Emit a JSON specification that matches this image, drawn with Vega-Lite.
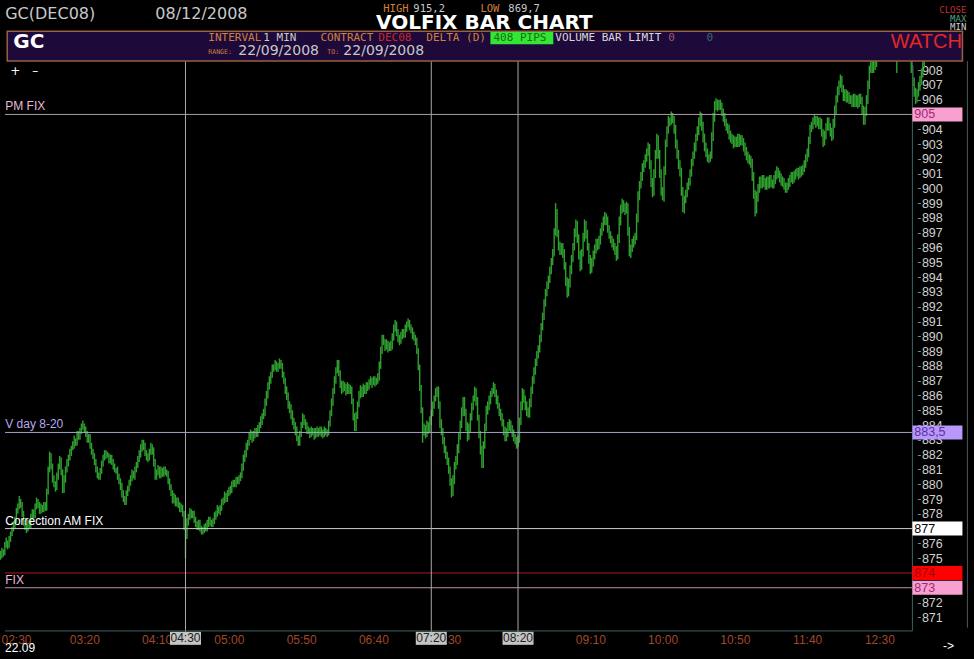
{
"$schema": "https://vega.github.io/schema/vega-lite/v6.json",
"width": 974, "height": 659,
"autosize": {"type": "fit", "contains": "padding"},
"padding": 0,
"background": "#000000",
"config": {"view": {"stroke": null}, "axis": {"labelOverlap": false}},
"datasets": {
"one": [{"k": 1}],
"vlines": [{"m": 270, "t": "04:30"}, {"m": 440, "t": "07:20"}, {"m": 500, "t": "08:20"}],
"levels": [
{"name": "PM FIX", "p": 905, "label": "PM FIX", "tag": "905"},
{"name": "V day 8-20", "p": 883.5, "label": "V day 8-20", "tag": "883,5"},
{"name": "Correction AM FIX", "p": 877, "label": "Correction AM FIX", "tag": "877"},
{"name": "874", "p": 874, "label": "", "tag": "874"},
{"name": "FIX", "p": 873, "label": "FIX", "tag": "873"}],
"bars": [
{"m":142,"h":875.5,"l":874.9},{"m":143,"h":875.7,"l":875.0},{"m":144,"h":875.6,"l":875.1},{"m":145,"h":876.1,"l":875.2},{"m":146,"h":876.4,"l":875.7},{"m":147,"h":876.2,"l":875.6},{"m":148,"h":876.5,"l":875.7},{"m":149,"h":876.8,"l":876.1},{"m":150,"h":877.1,"l":876.5},{"m":151,"h":877.5,"l":876.8},
{"m":152,"h":877.8,"l":877.0},{"m":153,"h":878.4,"l":877.4},{"m":154,"h":878.7,"l":878.0},{"m":155,"h":879.2,"l":878.3},{"m":156,"h":879.0,"l":878.4},{"m":157,"h":878.8,"l":877.8},{"m":158,"h":878.2,"l":877.2},{"m":159,"h":877.6,"l":876.9},{"m":160,"h":877.3,"l":876.7},{"m":161,"h":877.6,"l":876.8},
{"m":162,"h":877.5,"l":877.0},{"m":163,"h":878.0,"l":877.0},{"m":164,"h":878.3,"l":877.6},{"m":165,"h":878.3,"l":877.7},{"m":166,"h":878.7,"l":877.7},{"m":167,"h":879.1,"l":878.3},{"m":168,"h":879.0,"l":878.4},{"m":169,"h":878.8,"l":878.0},{"m":170,"h":878.7,"l":878.0},{"m":171,"h":878.6,"l":878.1},
{"m":172,"h":878.8,"l":878.1},{"m":173,"h":878.8,"l":878.2},{"m":174,"h":879.7,"l":878.2},{"m":175,"h":881.2,"l":879.3},{"m":176,"h":882.2,"l":880.8},{"m":177,"h":882.1,"l":881.0},{"m":178,"h":881.4,"l":880.1},{"m":179,"h":880.6,"l":879.8},{"m":180,"h":880.2,"l":879.5},{"m":181,"h":880.8,"l":879.6},
{"m":182,"h":881.4,"l":880.3},{"m":183,"h":881.9,"l":881.0},{"m":184,"h":881.8,"l":880.6},{"m":185,"h":881.0,"l":879.4},{"m":186,"h":880.6,"l":879.4},{"m":187,"h":881.2,"l":880.1},{"m":188,"h":881.7,"l":880.8},{"m":189,"h":882.0,"l":881.2},{"m":190,"h":882.4,"l":881.6},{"m":191,"h":882.6,"l":881.9},
{"m":192,"h":882.9,"l":882.3},{"m":193,"h":883.3,"l":882.4},{"m":194,"h":883.1,"l":882.6},{"m":195,"h":883.6,"l":882.6},{"m":196,"h":883.6,"l":883.0},{"m":197,"h":883.8,"l":883.0},{"m":198,"h":884.1,"l":883.4},{"m":199,"h":884.3,"l":883.7},{"m":200,"h":884.1,"l":883.5},{"m":201,"h":883.9,"l":883.2},
{"m":202,"h":883.6,"l":882.8},{"m":203,"h":883.4,"l":882.8},{"m":204,"h":883.4,"l":882.4},{"m":205,"h":882.8,"l":882.0},{"m":206,"h":882.4,"l":881.7},{"m":207,"h":882.1,"l":881.3},{"m":208,"h":881.7,"l":880.8},{"m":209,"h":881.2,"l":880.4},{"m":210,"h":880.8,"l":880.3},{"m":211,"h":881.1,"l":880.3},
{"m":212,"h":881.6,"l":880.7},{"m":213,"h":882.0,"l":881.2},{"m":214,"h":882.3,"l":881.6},{"m":215,"h":882.3,"l":881.7},{"m":216,"h":882.2,"l":881.8},{"m":217,"h":882.1,"l":881.4},{"m":218,"h":882.0,"l":881.4},{"m":219,"h":882.0,"l":881.3},{"m":220,"h":881.7,"l":881.0},{"m":221,"h":881.4,"l":880.8},
{"m":222,"h":881.1,"l":880.7},{"m":223,"h":881.2,"l":880.3},{"m":224,"h":880.7,"l":880.0},{"m":225,"h":880.4,"l":879.6},{"m":226,"h":880.1,"l":879.1},{"m":227,"h":879.6,"l":878.8},{"m":228,"h":879.2,"l":878.6},{"m":229,"h":879.6,"l":878.6},{"m":230,"h":879.9,"l":879.2},{"m":231,"h":880.3,"l":879.5},
{"m":232,"h":880.6,"l":879.9},{"m":233,"h":881.0,"l":880.2},{"m":234,"h":880.9,"l":880.4},{"m":235,"h":881.2,"l":880.3},{"m":236,"h":881.5,"l":880.8},{"m":237,"h":881.9,"l":881.1},{"m":238,"h":882.3,"l":881.5},{"m":239,"h":882.7,"l":881.8},{"m":240,"h":883.0,"l":882.2},{"m":241,"h":883.0,"l":882.3},
{"m":242,"h":882.8,"l":881.9},{"m":243,"h":882.3,"l":881.6},{"m":244,"h":882.1,"l":881.5},{"m":245,"h":882.4,"l":881.6},{"m":246,"h":882.8,"l":882.0},{"m":247,"h":882.7,"l":882.0},{"m":248,"h":882.5,"l":881.2},{"m":249,"h":881.7,"l":880.3},{"m":250,"h":881.0,"l":880.3},{"m":251,"h":881.3,"l":880.6},
{"m":252,"h":881.2,"l":880.4},{"m":253,"h":881.2,"l":880.4},{"m":254,"h":881.1,"l":880.5},{"m":255,"h":881.2,"l":880.5},{"m":256,"h":881.2,"l":880.6},{"m":257,"h":881.0,"l":880.5},{"m":258,"h":880.9,"l":880.0},{"m":259,"h":880.4,"l":879.6},{"m":260,"h":880.0,"l":879.2},{"m":261,"h":879.6,"l":878.7},
{"m":262,"h":879.4,"l":878.7},{"m":263,"h":879.3,"l":878.5},{"m":264,"h":879.1,"l":878.5},{"m":265,"h":879.1,"l":878.4},{"m":266,"h":878.8,"l":878.1},{"m":267,"h":878.7,"l":878.1},{"m":268,"h":878.6,"l":877.8},{"m":269,"h":878.2,"l":876.9},{"m":270,"h":877.5,"l":875.0},{"m":271,"h":877.7,"l":876.3},
{"m":272,"h":878.0,"l":877.2},{"m":273,"h":878.4,"l":877.6},{"m":274,"h":878.3,"l":877.7},{"m":275,"h":878.2,"l":877.7},{"m":276,"h":878.2,"l":877.4},{"m":277,"h":877.8,"l":877.1},{"m":278,"h":877.5,"l":876.9},{"m":279,"h":877.6,"l":876.9},{"m":280,"h":877.6,"l":876.8},{"m":281,"h":877.2,"l":876.6},
{"m":282,"h":877.1,"l":876.6},{"m":283,"h":877.3,"l":876.7},{"m":284,"h":877.4,"l":876.8},{"m":285,"h":877.6,"l":876.8},{"m":286,"h":877.8,"l":877.1},{"m":287,"h":877.8,"l":877.2},{"m":288,"h":877.6,"l":877.1},{"m":289,"h":877.7,"l":877.1},{"m":290,"h":878.1,"l":877.3},{"m":291,"h":878.2,"l":877.6},
{"m":292,"h":878.6,"l":877.8},{"m":293,"h":878.5,"l":878.0},{"m":294,"h":878.6,"l":877.9},{"m":295,"h":879.0,"l":878.2},{"m":296,"h":879.1,"l":878.6},{"m":297,"h":879.5,"l":878.7},{"m":298,"h":879.4,"l":878.8},{"m":299,"h":879.6,"l":878.8},{"m":300,"h":879.8,"l":879.2},{"m":301,"h":879.9,"l":879.3},
{"m":302,"h":880.2,"l":879.4},{"m":303,"h":880.3,"l":879.8},{"m":304,"h":880.3,"l":879.8},{"m":305,"h":880.5,"l":879.8},{"m":306,"h":880.5,"l":880.0},{"m":307,"h":880.6,"l":880.0},{"m":308,"h":880.8,"l":880.2},{"m":309,"h":881.4,"l":880.4},{"m":310,"h":882.0,"l":880.9},{"m":311,"h":882.3,"l":881.5},
{"m":312,"h":882.8,"l":881.8},{"m":313,"h":883.0,"l":882.3},{"m":314,"h":883.5,"l":882.6},{"m":315,"h":883.7,"l":883.0},{"m":316,"h":883.6,"l":882.8},{"m":317,"h":883.6,"l":882.9},{"m":318,"h":883.8,"l":883.1},{"m":319,"h":883.8,"l":883.2},{"m":320,"h":884.0,"l":883.2},{"m":321,"h":884.2,"l":883.5},
{"m":322,"h":884.6,"l":883.8},{"m":323,"h":884.8,"l":884.0},{"m":324,"h":885.1,"l":884.4},{"m":325,"h":885.8,"l":884.6},{"m":326,"h":886.3,"l":885.3},{"m":327,"h":886.9,"l":885.8},{"m":328,"h":887.3,"l":886.4},{"m":329,"h":887.6,"l":886.8},{"m":330,"h":888.1,"l":887.2},{"m":331,"h":888.1,"l":887.6},
{"m":332,"h":888.4,"l":887.7},{"m":333,"h":888.3,"l":887.6},{"m":334,"h":888.2,"l":887.6},{"m":335,"h":888.5,"l":887.8},{"m":336,"h":888.4,"l":887.8},{"m":337,"h":888.2,"l":887.2},{"m":338,"h":887.6,"l":886.8},{"m":339,"h":887.2,"l":886.1},{"m":340,"h":886.6,"l":885.7},{"m":341,"h":886.2,"l":885.1},
{"m":342,"h":885.6,"l":884.8},{"m":343,"h":885.4,"l":884.4},{"m":344,"h":885.0,"l":884.0},{"m":345,"h":884.5,"l":883.7},{"m":346,"h":884.2,"l":883.3},{"m":347,"h":883.9,"l":882.9},{"m":348,"h":883.3,"l":882.6},{"m":349,"h":883.6,"l":882.6},{"m":350,"h":884.2,"l":883.2},{"m":351,"h":884.8,"l":883.8},
{"m":352,"h":884.7,"l":884.0},{"m":353,"h":884.4,"l":883.7},{"m":354,"h":884.2,"l":883.4},{"m":355,"h":883.9,"l":883.4},{"m":356,"h":883.8,"l":883.1},{"m":357,"h":883.9,"l":883.2},{"m":358,"h":883.8,"l":883.3},{"m":359,"h":883.8,"l":883.0},{"m":360,"h":883.8,"l":883.1},{"m":361,"h":883.9,"l":883.2},
{"m":362,"h":883.8,"l":883.2},{"m":363,"h":883.9,"l":883.3},{"m":364,"h":883.9,"l":883.2},{"m":365,"h":883.7,"l":883.1},{"m":366,"h":883.9,"l":883.2},{"m":367,"h":883.8,"l":883.3},{"m":368,"h":883.7,"l":883.2},{"m":369,"h":884.3,"l":883.3},{"m":370,"h":885.0,"l":883.9},{"m":371,"h":885.8,"l":884.6},
{"m":372,"h":886.5,"l":885.3},{"m":373,"h":887.3,"l":886.1},{"m":374,"h":887.9,"l":886.8},{"m":375,"h":888.4,"l":887.5},{"m":376,"h":888.4,"l":887.3},{"m":377,"h":887.7,"l":886.5},{"m":378,"h":887.0,"l":886.1},{"m":379,"h":887.0,"l":886.2},{"m":380,"h":886.9,"l":886.3},{"m":381,"h":886.8,"l":886.0},
{"m":382,"h":886.9,"l":886.1},{"m":383,"h":886.8,"l":886.1},{"m":384,"h":886.7,"l":886.1},{"m":385,"h":886.6,"l":885.4},{"m":386,"h":885.8,"l":884.3},{"m":387,"h":884.8,"l":883.6},{"m":388,"h":884.9,"l":883.6},{"m":389,"h":885.6,"l":884.4},{"m":390,"h":886.3,"l":885.2},{"m":391,"h":886.7,"l":885.8},
{"m":392,"h":886.6,"l":885.9},{"m":393,"h":886.8,"l":885.9},{"m":394,"h":886.7,"l":886.1},{"m":395,"h":886.9,"l":886.1},{"m":396,"h":886.9,"l":886.3},{"m":397,"h":887.1,"l":886.4},{"m":398,"h":887.3,"l":886.7},{"m":399,"h":887.2,"l":886.5},{"m":400,"h":887.3,"l":886.7},{"m":401,"h":887.3,"l":886.6},
{"m":402,"h":887.2,"l":886.7},{"m":403,"h":887.5,"l":886.8},{"m":404,"h":888.3,"l":887.0},{"m":405,"h":889.3,"l":887.8},{"m":406,"h":890.1,"l":888.8},{"m":407,"h":890.1,"l":889.4},{"m":408,"h":889.8,"l":889.0},{"m":409,"h":889.8,"l":889.1},{"m":410,"h":889.7,"l":888.9},{"m":411,"h":889.6,"l":889.0},
{"m":412,"h":889.7,"l":889.0},{"m":413,"h":890.2,"l":889.1},{"m":414,"h":890.8,"l":889.7},{"m":415,"h":891.1,"l":890.3},{"m":416,"h":891.0,"l":890.0},{"m":417,"h":890.5,"l":889.6},{"m":418,"h":890.1,"l":889.4},{"m":419,"h":890.3,"l":889.5},{"m":420,"h":890.5,"l":889.8},{"m":421,"h":890.5,"l":889.9},
{"m":422,"h":890.8,"l":889.9},{"m":423,"h":891.0,"l":890.3},{"m":424,"h":891.2,"l":890.6},{"m":425,"h":891.1,"l":890.4},{"m":426,"h":890.8,"l":890.2},{"m":427,"h":890.6,"l":889.8},{"m":428,"h":890.3,"l":889.7},{"m":429,"h":890.1,"l":889.4},{"m":430,"h":889.9,"l":888.8},{"m":431,"h":889.2,"l":887.7},
{"m":432,"h":888.1,"l":886.3},{"m":433,"h":886.7,"l":884.8},{"m":434,"h":885.2,"l":882.8},{"m":435,"h":884.1,"l":883.3},{"m":436,"h":884.0,"l":883.1},{"m":437,"h":884.3,"l":883.2},{"m":438,"h":884.2,"l":883.4},{"m":439,"h":884.6,"l":883.5},{"m":440,"h":885.0,"l":884.0},{"m":441,"h":885.6,"l":884.6},
{"m":442,"h":886.0,"l":885.1},{"m":443,"h":886.5,"l":885.6},{"m":444,"h":886.6,"l":885.9},{"m":445,"h":886.6,"l":885.1},{"m":446,"h":885.6,"l":883.8},{"m":447,"h":884.4,"l":883.3},{"m":448,"h":883.8,"l":882.7},{"m":449,"h":883.2,"l":882.1},{"m":450,"h":882.6,"l":881.7},{"m":451,"h":882.2,"l":881.3},
{"m":452,"h":881.8,"l":880.7},{"m":453,"h":881.2,"l":879.9},{"m":454,"h":880.4,"l":879.1},{"m":455,"h":880.6,"l":879.2},{"m":456,"h":881.5,"l":880.0},{"m":457,"h":881.9,"l":881.0},{"m":458,"h":882.7,"l":881.3},{"m":459,"h":883.5,"l":882.1},{"m":460,"h":884.3,"l":883.0},{"m":461,"h":885.2,"l":883.8},
{"m":462,"h":885.9,"l":884.6},{"m":463,"h":885.9,"l":884.6},{"m":464,"h":885.1,"l":883.6},{"m":465,"h":884.2,"l":882.9},{"m":466,"h":884.1,"l":883.0},{"m":467,"h":884.8,"l":883.5},{"m":468,"h":885.5,"l":884.3},{"m":469,"h":886.0,"l":885.0},{"m":470,"h":886.6,"l":885.6},{"m":471,"h":886.5,"l":885.3},
{"m":472,"h":885.9,"l":884.3},{"m":473,"h":884.7,"l":883.1},{"m":474,"h":883.6,"l":882.0},{"m":475,"h":882.6,"l":881.1},{"m":476,"h":882.9,"l":881.1},{"m":477,"h":884.1,"l":882.4},{"m":478,"h":885.3,"l":883.6},{"m":479,"h":885.6,"l":884.7},{"m":480,"h":886.0,"l":885.0},{"m":481,"h":886.3,"l":885.4},
{"m":482,"h":886.5,"l":885.9},{"m":483,"h":886.9,"l":886.1},{"m":484,"h":886.8,"l":885.9},{"m":485,"h":886.4,"l":885.4},{"m":486,"h":886.0,"l":885.1},{"m":487,"h":885.5,"l":884.6},{"m":488,"h":885.1,"l":884.3},{"m":489,"h":884.8,"l":883.9},{"m":490,"h":884.4,"l":883.3},{"m":491,"h":883.9,"l":882.9},
{"m":492,"h":883.8,"l":882.9},{"m":493,"h":884.2,"l":883.2},{"m":494,"h":884.4,"l":883.6},{"m":495,"h":884.3,"l":883.5},{"m":496,"h":884.0,"l":883.2},{"m":497,"h":883.7,"l":882.9},{"m":498,"h":883.4,"l":882.7},{"m":499,"h":883.2,"l":882.4},{"m":500,"h":883.3,"l":882.5},{"m":501,"h":884.5,"l":882.8},
{"m":502,"h":885.6,"l":884.0},{"m":503,"h":886.5,"l":885.0},{"m":504,"h":886.4,"l":885.5},{"m":505,"h":886.0,"l":885.0},{"m":506,"h":885.6,"l":884.6},{"m":507,"h":885.2,"l":884.5},{"m":508,"h":885.8,"l":884.5},{"m":509,"h":886.6,"l":885.2},{"m":510,"h":887.3,"l":886.1},{"m":511,"h":887.9,"l":886.8},
{"m":512,"h":888.5,"l":887.4},{"m":513,"h":889.0,"l":888.0},{"m":514,"h":889.4,"l":888.5},{"m":515,"h":890.1,"l":888.9},{"m":516,"h":890.9,"l":889.6},{"m":517,"h":891.6,"l":890.4},{"m":518,"h":892.5,"l":891.1},{"m":519,"h":893.2,"l":892.0},{"m":520,"h":893.7,"l":892.7},{"m":521,"h":894.1,"l":893.2},
{"m":522,"h":894.7,"l":893.6},{"m":523,"h":895.3,"l":894.2},{"m":524,"h":895.9,"l":894.8},{"m":525,"h":897.3,"l":895.4},{"m":526,"h":899.0,"l":896.8},{"m":527,"h":898.6,"l":896.7},{"m":528,"h":897.2,"l":895.8},{"m":529,"h":896.4,"l":895.5},{"m":530,"h":896.3,"l":895.5},{"m":531,"h":896.3,"l":895.3},
{"m":532,"h":895.9,"l":894.5},{"m":533,"h":895.0,"l":893.4},{"m":534,"h":894.0,"l":892.6},{"m":535,"h":893.9,"l":892.7},{"m":536,"h":894.8,"l":893.3},{"m":537,"h":895.5,"l":894.2},{"m":538,"h":896.3,"l":895.0},{"m":539,"h":897.3,"l":895.8},{"m":540,"h":897.9,"l":896.7},{"m":541,"h":897.8,"l":896.3},
{"m":542,"h":896.9,"l":895.2},{"m":543,"h":895.8,"l":894.4},{"m":544,"h":895.9,"l":894.5},{"m":545,"h":897.0,"l":895.4},{"m":546,"h":897.9,"l":896.4},{"m":547,"h":897.8,"l":896.6},{"m":548,"h":897.2,"l":895.8},{"m":549,"h":896.3,"l":894.9},{"m":550,"h":895.5,"l":894.2},{"m":551,"h":895.3,"l":894.3},
{"m":552,"h":895.8,"l":894.7},{"m":553,"h":896.2,"l":895.2},{"m":554,"h":896.6,"l":895.6},{"m":555,"h":896.6,"l":895.8},{"m":556,"h":896.8,"l":895.9},{"m":557,"h":897.3,"l":896.2},{"m":558,"h":897.7,"l":896.8},{"m":559,"h":898.1,"l":897.1},{"m":560,"h":898.4,"l":897.5},{"m":561,"h":898.3,"l":897.5},
{"m":562,"h":898.1,"l":897.0},{"m":563,"h":897.5,"l":896.6},{"m":564,"h":897.1,"l":896.3},{"m":565,"h":896.8,"l":896.0},{"m":566,"h":896.6,"l":895.8},{"m":567,"h":896.3,"l":895.5},{"m":568,"h":896.1,"l":895.1},{"m":569,"h":896.9,"l":895.2},{"m":570,"h":898.1,"l":896.3},{"m":571,"h":898.9,"l":897.5},
{"m":572,"h":899.3,"l":898.3},{"m":573,"h":899.2,"l":898.4},{"m":574,"h":899.0,"l":898.2},{"m":575,"h":899.1,"l":898.3},{"m":576,"h":899.0,"l":896.8},{"m":577,"h":897.4,"l":895.4},{"m":578,"h":896.2,"l":895.3},{"m":579,"h":896.6,"l":895.7},{"m":580,"h":896.8,"l":896.0},{"m":581,"h":897.0,"l":896.2},
{"m":582,"h":898.3,"l":896.5},{"m":583,"h":899.8,"l":897.7},{"m":584,"h":900.5,"l":899.2},{"m":585,"h":901.1,"l":900.0},{"m":586,"h":901.7,"l":900.5},{"m":587,"h":901.9,"l":901.1},{"m":588,"h":902.3,"l":901.4},{"m":589,"h":902.7,"l":901.8},{"m":590,"h":903.1,"l":902.2},{"m":591,"h":903.0,"l":901.3},
{"m":592,"h":901.9,"l":900.1},{"m":593,"h":900.7,"l":899.4},{"m":594,"h":901.3,"l":899.5},{"m":595,"h":902.6,"l":900.7},{"m":596,"h":903.7,"l":902.0},{"m":597,"h":903.6,"l":902.0},{"m":598,"h":902.6,"l":900.7},{"m":599,"h":901.3,"l":899.5},{"m":600,"h":900.1,"l":899.2},{"m":601,"h":901.5,"l":899.1},
{"m":602,"h":903.3,"l":900.9},{"m":603,"h":904.2,"l":902.8},{"m":604,"h":904.9,"l":903.7},{"m":605,"h":904.8,"l":904.2},{"m":606,"h":905.2,"l":904.3},{"m":607,"h":905.1,"l":904.4},{"m":608,"h":904.9,"l":903.7},{"m":609,"h":904.3,"l":902.7},{"m":610,"h":903.3,"l":902.0},{"m":611,"h":902.6,"l":901.3},
{"m":612,"h":901.9,"l":900.8},{"m":613,"h":901.4,"l":899.5},{"m":614,"h":900.1,"l":898.4},{"m":615,"h":899.5,"l":898.3},{"m":616,"h":899.9,"l":899.0},{"m":617,"h":900.4,"l":899.4},{"m":618,"h":900.7,"l":899.9},{"m":619,"h":901.3,"l":900.2},{"m":620,"h":902.0,"l":900.8},{"m":621,"h":902.5,"l":901.5},
{"m":622,"h":903.1,"l":902.0},{"m":623,"h":903.7,"l":902.5},{"m":624,"h":904.2,"l":903.2},{"m":625,"h":904.8,"l":903.6},{"m":626,"h":905.2,"l":904.2},{"m":627,"h":905.1,"l":903.9},{"m":628,"h":904.5,"l":903.1},{"m":629,"h":903.7,"l":902.5},{"m":630,"h":903.1,"l":902.1},{"m":631,"h":902.7,"l":901.8},
{"m":632,"h":902.3,"l":901.7},{"m":633,"h":902.5,"l":901.8},{"m":634,"h":903.8,"l":902.0},{"m":635,"h":905.1,"l":903.2},{"m":636,"h":905.9,"l":904.5},{"m":637,"h":906.1,"l":905.3},{"m":638,"h":906.0,"l":905.2},{"m":639,"h":906.0,"l":905.3},{"m":640,"h":906.0,"l":905.3},{"m":641,"h":905.8,"l":904.9},
{"m":642,"h":905.4,"l":904.5},{"m":643,"h":905.1,"l":904.2},{"m":644,"h":904.7,"l":903.9},{"m":645,"h":904.4,"l":903.7},{"m":646,"h":904.3,"l":903.3},{"m":647,"h":903.9,"l":903.1},{"m":648,"h":903.7,"l":903.0},{"m":649,"h":903.6,"l":902.7},{"m":650,"h":903.5,"l":902.8},{"m":651,"h":903.5,"l":902.8},
{"m":652,"h":903.7,"l":902.8},{"m":653,"h":903.7,"l":902.8},{"m":654,"h":903.6,"l":902.9},{"m":655,"h":903.6,"l":902.9},{"m":656,"h":903.4,"l":902.5},{"m":657,"h":903.1,"l":902.2},{"m":658,"h":902.8,"l":901.9},{"m":659,"h":902.5,"l":901.7},{"m":660,"h":902.3,"l":901.6},{"m":661,"h":902.2,"l":901.4},
{"m":662,"h":902.0,"l":900.5},{"m":663,"h":901.1,"l":899.3},{"m":664,"h":899.9,"l":898.1},{"m":665,"h":899.8,"l":898.3},{"m":666,"h":900.3,"l":899.1},{"m":667,"h":900.8,"l":899.7},{"m":668,"h":900.8,"l":900.0},{"m":669,"h":900.9,"l":900.0},{"m":670,"h":900.9,"l":900.1},{"m":671,"h":900.7,"l":899.9},
{"m":672,"h":900.8,"l":899.9},{"m":673,"h":900.8,"l":900.0},{"m":674,"h":900.9,"l":900.0},{"m":675,"h":900.9,"l":900.1},{"m":676,"h":900.6,"l":900.0},{"m":677,"h":900.9,"l":900.0},{"m":678,"h":901.2,"l":900.3},{"m":679,"h":901.5,"l":900.6},{"m":680,"h":901.4,"l":900.7},{"m":681,"h":901.2,"l":900.4},
{"m":682,"h":901.0,"l":900.2},{"m":683,"h":900.8,"l":900.1},{"m":684,"h":900.7,"l":899.9},{"m":685,"h":900.4,"l":899.7},{"m":686,"h":900.4,"l":899.7},{"m":687,"h":900.7,"l":899.9},{"m":688,"h":900.9,"l":900.1},{"m":689,"h":901.1,"l":900.4},{"m":690,"h":901.1,"l":900.3},{"m":691,"h":901.2,"l":900.4},
{"m":692,"h":901.3,"l":900.6},{"m":693,"h":901.4,"l":900.8},{"m":694,"h":901.4,"l":900.6},{"m":695,"h":901.5,"l":900.7},{"m":696,"h":901.5,"l":900.8},{"m":697,"h":901.6,"l":900.9},{"m":698,"h":901.9,"l":901.1},{"m":699,"h":902.3,"l":901.4},{"m":700,"h":902.7,"l":901.8},{"m":701,"h":903.5,"l":902.1},
{"m":702,"h":904.3,"l":903.0},{"m":703,"h":904.5,"l":903.8},{"m":704,"h":904.8,"l":904.0},{"m":705,"h":905.0,"l":904.3},{"m":706,"h":904.9,"l":904.1},{"m":707,"h":904.9,"l":904.2},{"m":708,"h":904.8,"l":904.0},{"m":709,"h":904.8,"l":904.0},{"m":710,"h":904.7,"l":903.5},{"m":711,"h":904.0,"l":902.8},
{"m":712,"h":903.9,"l":902.9},{"m":713,"h":904.4,"l":903.3},{"m":714,"h":904.8,"l":903.9},{"m":715,"h":904.8,"l":903.9},{"m":716,"h":904.4,"l":903.5},{"m":717,"h":904.1,"l":903.2},{"m":718,"h":904.7,"l":903.3},{"m":719,"h":905.6,"l":904.1},{"m":720,"h":906.3,"l":905.0},{"m":721,"h":906.9,"l":905.8},
{"m":722,"h":907.3,"l":906.3},{"m":723,"h":907.7,"l":906.8},{"m":724,"h":907.6,"l":906.5},{"m":725,"h":907.0,"l":905.9},{"m":726,"h":906.7,"l":905.9},{"m":727,"h":906.7,"l":905.8},{"m":728,"h":906.6,"l":905.8},{"m":729,"h":906.5,"l":905.7},{"m":730,"h":906.3,"l":905.7},{"m":731,"h":906.3,"l":905.5},
{"m":732,"h":906.4,"l":905.5},{"m":733,"h":906.4,"l":905.5},{"m":734,"h":906.3,"l":905.5},{"m":735,"h":906.3,"l":905.4},{"m":736,"h":906.4,"l":905.5},{"m":737,"h":906.4,"l":905.7},{"m":738,"h":906.2,"l":905.0},{"m":739,"h":905.6,"l":904.3},{"m":740,"h":905.5,"l":904.3},{"m":741,"h":906.3,"l":904.9},
{"m":742,"h":907.3,"l":905.7},{"m":743,"h":908.3,"l":906.7},{"m":744,"h":908.6,"l":907.8},{"m":745,"h":908.6,"l":907.8},{"m":746,"h":908.7,"l":907.8},{"m":747,"h":908.8,"l":908.0},{"m":748,"h":909.1,"l":908.2},{"m":749,"h":909.6,"l":908.7},{"m":750,"h":909.9,"l":909.1},{"m":751,"h":910.2,"l":909.4},
{"m":752,"h":910.5,"l":909.6},{"m":753,"h":910.4,"l":909.7},{"m":754,"h":910.6,"l":909.8},{"m":755,"h":910.6,"l":909.8},{"m":756,"h":910.6,"l":909.9},{"m":757,"h":910.5,"l":909.7},{"m":758,"h":910.2,"l":909.4},{"m":759,"h":909.9,"l":909.1},{"m":760,"h":909.6,"l":908.8},{"m":761,"h":909.4,"l":908.7},
{"m":762,"h":909.1,"l":907.8},{"m":763,"h":909.7,"l":908.8},{"m":764,"h":910.0,"l":909.2},{"m":765,"h":910.2,"l":909.4},{"m":766,"h":910.0,"l":909.2},{"m":767,"h":909.8,"l":909.1},{"m":768,"h":909.7,"l":909.0},{"m":769,"h":909.6,"l":908.9},{"m":770,"h":909.4,"l":908.8},{"m":771,"h":909.2,"l":908.7},
{"m":772,"h":909.0,"l":907.8},{"m":773,"h":908.3,"l":906.9},{"m":774,"h":907.5,"l":906.2},{"m":775,"h":906.8,"l":905.7},{"m":776,"h":906.7,"l":905.8},{"m":777,"h":907.2,"l":906.2},{"m":778,"h":907.6,"l":906.6},{"m":779,"h":908.1,"l":907.0},{"m":780,"h":908.7,"l":907.5},{"m":781,"h":909.4,"l":908.2}
]
},
"layer": [
{"data": {"name": "bars"}, "mark": {"type": "rule", "color": "#2fa02f", "strokeWidth": 1.4, "clip": true},
 "encoding": {
  "x": {"field": "m", "type": "quantitative", "scale": {"domain": [145.15, 811.94], "nice": false, "zero": false},
   "axis": {"orient": "bottom", "offset": -27, "values": [150, 200, 250, 300, 350, 400, 450, 500, 550, 600, 650, 700, 750], "tickCount": 50, "labelExpr": "timeFormat(datetime(2008, 8, 22, 0, datum.value), '%H:%M')", "title": null, "domain": false, "grid": false, "ticks": false, "tickSize": 0, "labelColor": "#a04828", "labelFont": "Liberation Sans", "labelFontSize": 12, "labelPadding": 2, "labelFlush": 15, "labelFlushOffset": 11, "labelOverlap": false}},
  "y": {"field": "l", "type": "quantitative", "scale": {"domain": [868.521, 912.398], "nice": false, "zero": false},
   "axis": {"orient": "right", "offset": -56.6, "values": [871, 872, 873, 874, 875, 876, 877, 878, 879, 880, 881, 882, 883, 884, 885, 886, 887, 888, 889, 890, 891, 892, 893, 894, 895, 896, 897, 898, 899, 900, 901, 902, 903, 904, 905, 906, 907, 908], "tickCount": 100, "format": "d", "title": null, "grid": false, "domain": false, "ticks": true, "tickColor": "#7a9090", "tickSize": 3, "labelColor": "#d0d0d0", "labelFont": "Liberation Sans", "labelFontSize": 12.5, "labelPadding": 1, "labelOverlap": false}},
  "y2": {"field": "h"}}},
{"data": {"name": "levels"}, "mark": {"type": "rule", "strokeWidth": 1},
 "encoding": {"x": {"datum": 145.2, "type": "quantitative"}, "x2": {"datum": 772.8}, "y": {"field": "p", "type": "quantitative"},
  "color": {"field": "name", "type": "nominal", "legend": null, "scale": {"domain": ["PM FIX", "V day 8-20", "Correction AM FIX", "874", "FIX"], "range": ["#b09ca8", "#a4a4c4", "#cccccc", "#b01818", "#c090a8"]}}}},
{"data": {"name": "vlines"}, "mark": {"type": "rule", "color": "#a8a8a8", "strokeWidth": 1},
 "encoding": {"x": {"field": "m", "type": "quantitative"}, "y": {"datum": 908.6, "type": "quantitative"}, "y2": {"datum": 869.95}}},
{"data": {"name": "one"}, "mark": {"type": "rule", "color": "#3a6262", "strokeWidth": 1},
 "encoding": {"x": {"datum": 145.2, "type": "quantitative"}, "x2": {"datum": 772.8}, "y": {"datum": 870.08, "type": "quantitative"}}},
{"data": {"name": "one"}, "mark": {"type": "rule", "color": "#3a6262", "strokeWidth": 1},
 "encoding": {"x": {"datum": 772.8, "type": "quantitative"}, "y": {"datum": 908.6, "type": "quantitative"}, "y2": {"datum": 870.08}}},
{"data": {"name": "one"}, "mark": {"type": "rule", "color": "#4a5a5a", "strokeWidth": 1},
 "encoding": {"x": {"datum": 810.84, "type": "quantitative"}, "y": {"datum": 908.6, "type": "quantitative"}, "y2": {"datum": 870.3}}},
{"data": {"name": "one"}, "mark": {"type": "rect", "fill": "#1e0a3a", "stroke": "#9a6040", "strokeWidth": 1.5},
 "encoding": {"x": {"datum": 146.7, "type": "quantitative"}, "x2": {"datum": 807.4}, "y": {"datum": 910.63, "type": "quantitative"}, "y2": {"datum": 908.62}}},
{"data": {"name": "levels"}, "transform": [{"filter": "datum.label != ''"}], "mark": {"type": "text", "align": "left", "baseline": "bottom", "dy": -1, "font": "Liberation Sans", "fontSize": 12},
 "encoding": {"x": {"datum": 145.3, "type": "quantitative"}, "y": {"field": "p", "type": "quantitative"}, "text": {"field": "label"},
  "color": {"field": "name", "type": "nominal", "legend": null, "scale": {"domain": ["PM FIX", "V day 8-20", "Correction AM FIX", "874", "FIX"], "range": ["#e8b8d8", "#b8a8f0", "#ffffff", "#b01818", "#e8b8d8"]}}}},
{"data": {"name": "levels"}, "mark": {"type": "bar", "orient": "horizontal", "size": 14},
 "encoding": {"x": {"datum": 772.8, "type": "quantitative"}, "x2": {"datum": 807.4}, "y": {"field": "p", "type": "quantitative"},
  "color": {"field": "name", "type": "nominal", "legend": null, "scale": {"domain": ["PM FIX", "V day 8-20", "Correction AM FIX", "874", "FIX"], "range": ["#f8a0d0", "#b898f8", "#ffffff", "#ff0000", "#f8a0d0"]}}}},
{"data": {"name": "levels"}, "mark": {"type": "text", "align": "left", "baseline": "middle", "font": "Liberation Sans", "fontSize": 12.5},
 "encoding": {"x": {"datum": 774.1, "type": "quantitative"}, "y": {"field": "p", "type": "quantitative"}, "text": {"field": "tag"},
  "color": {"field": "name", "type": "nominal", "legend": null, "scale": {"domain": ["PM FIX", "V day 8-20", "Correction AM FIX", "874", "FIX"], "range": ["#a02878", "#5830a8", "#000000", "#a00000", "#a02878"]}}}},
{"data": {"name": "vlines"}, "mark": {"type": "bar", "orient": "vertical", "size": 31, "color": "#c4c4c4"},
 "encoding": {"x": {"field": "m", "type": "quantitative"}, "y": {"datum": 870.02, "type": "quantitative"}, "y2": {"datum": 869.14}}},
{"data": {"name": "vlines"}, "mark": {"type": "text", "align": "center", "baseline": "middle", "font": "Liberation Sans", "fontSize": 12, "color": "#202020"},
 "encoding": {"x": {"field": "m", "type": "quantitative"}, "y": {"datum": 869.58, "type": "quantitative"}, "text": {"field": "t"}}},
{"data": {"name": "one"}, "mark": {"type": "text", "text": "22.09", "align": "left", "baseline": "middle", "font": "Liberation Sans", "fontSize": 12, "color": "#ffffff"},
 "encoding": {"x": {"datum": 145.2, "type": "quantitative"}, "y": {"datum": 868.9, "type": "quantitative"}}},
{"data": {"name": "one"}, "mark": {"type": "text", "text": "->", "align": "center", "baseline": "middle", "font": "Liberation Sans", "fontSize": 12, "color": "#ffffff"},
 "encoding": {"x": {"datum": 797.7, "type": "quantitative"}, "y": {"datum": 869.07, "type": "quantitative"}}},
{"data": {"name": "one"}, "mark": {"type": "text", "text": "+", "align": "left", "baseline": "middle", "font": "DejaVu Sans", "fontSize": 12, "color": "#ffffff"},
 "encoding": {"x": {"datum": 148.8, "type": "quantitative"}, "y": {"datum": 907.92, "type": "quantitative"}}},
{"data": {"name": "one"}, "mark": {"type": "text", "text": "–", "align": "left", "baseline": "middle", "font": "DejaVu Sans", "fontSize": 12, "color": "#ffffff"},
 "encoding": {"x": {"datum": 164.0, "type": "quantitative"}, "y": {"datum": 907.92, "type": "quantitative"}}},
{"data": {"name": "one"}, "mark": {"type": "text", "text": "GC(DEC08)", "align": "left", "baseline": "top", "font": "DejaVu Sans", "fontSize": 16, "color": "#c8c8c8"},
 "encoding": {"x": {"datum": 145.3, "type": "quantitative"}, "y": {"datum": 912.36, "type": "quantitative"}}},
{"data": {"name": "one"}, "mark": {"type": "text", "text": "08/12/2008", "align": "left", "baseline": "top", "font": "DejaVu Sans", "fontSize": 16, "color": "#c8c8c8"},
 "encoding": {"x": {"datum": 249.1, "type": "quantitative"}, "y": {"datum": 912.36, "type": "quantitative"}}},
{"data": {"name": "one"}, "mark": {"type": "text", "text": "HIGH", "align": "left", "baseline": "middle", "font": "DejaVu Sans Mono", "fontSize": 10.5, "color": "#d0803a"},
 "encoding": {"x": {"datum": 406.8, "type": "quantitative"}, "y": {"datum": 912.12, "type": "quantitative"}}},
{"data": {"name": "one"}, "mark": {"type": "text", "text": "915,2", "align": "left", "baseline": "middle", "font": "DejaVu Sans Mono", "fontSize": 10.5, "color": "#c8c8c8"},
 "encoding": {"x": {"datum": 427.6, "type": "quantitative"}, "y": {"datum": 912.12, "type": "quantitative"}}},
{"data": {"name": "one"}, "mark": {"type": "text", "text": "LOW", "align": "left", "baseline": "middle", "font": "DejaVu Sans Mono", "fontSize": 10.5, "color": "#d0803a"},
 "encoding": {"x": {"datum": 474.0, "type": "quantitative"}, "y": {"datum": 912.12, "type": "quantitative"}}},
{"data": {"name": "one"}, "mark": {"type": "text", "text": "869,7", "align": "left", "baseline": "middle", "font": "DejaVu Sans Mono", "fontSize": 10.5, "color": "#c8c8c8"},
 "encoding": {"x": {"datum": 493.3, "type": "quantitative"}, "y": {"datum": 912.12, "type": "quantitative"}}},
{"data": {"name": "one"}, "mark": {"type": "text", "text": "VOLFIX BAR CHART", "align": "center", "baseline": "middle", "font": "DejaVu Sans", "fontWeight": "bold", "fontSize": 20, "color": "#ffffff"},
 "encoding": {"x": {"datum": 476.7, "type": "quantitative"}, "y": {"datum": 911.16, "type": "quantitative"}}},
{"data": {"name": "one"}, "mark": {"type": "text", "text": "CLOSE", "align": "right", "baseline": "middle", "font": "DejaVu Sans Mono", "fontSize": 9, "color": "#c03030"},
 "encoding": {"x": {"datum": 810.1, "type": "quantitative"}, "y": {"datum": 912.09, "type": "quantitative"}}},
{"data": {"name": "one"}, "mark": {"type": "text", "text": "MAX", "align": "right", "baseline": "middle", "font": "DejaVu Sans Mono", "fontSize": 9, "color": "#50a080"},
 "encoding": {"x": {"datum": 810.1, "type": "quantitative"}, "y": {"datum": 911.48, "type": "quantitative"}}},
{"data": {"name": "one"}, "mark": {"type": "text", "text": "MIN", "align": "right", "baseline": "middle", "font": "DejaVu Sans Mono", "fontSize": 9, "color": "#d0d0d0"},
 "encoding": {"x": {"datum": 810.1, "type": "quantitative"}, "y": {"datum": 910.91, "type": "quantitative"}}},
{"data": {"name": "one"}, "mark": {"type": "text", "text": "GC", "align": "left", "baseline": "middle", "font": "DejaVu Sans", "fontWeight": "bold", "fontSize": 20, "color": "#ffffff"},
 "encoding": {"x": {"datum": 150.9, "type": "quantitative"}, "y": {"datum": 909.89, "type": "quantitative"}}},
{"data": {"name": "one"}, "mark": {"type": "text", "text": "INTERVAL", "align": "left", "baseline": "middle", "font": "DejaVu Sans Mono", "fontSize": 11, "color": "#d0803a"},
 "encoding": {"x": {"datum": 285.8, "type": "quantitative"}, "y": {"datum": 910.16, "type": "quantitative"}}},
{"data": {"name": "one"}, "mark": {"type": "text", "text": "1 MIN", "align": "left", "baseline": "middle", "font": "DejaVu Sans Mono", "fontSize": 11, "color": "#c8c8c8"},
 "encoding": {"x": {"datum": 323.8, "type": "quantitative"}, "y": {"datum": 910.16, "type": "quantitative"}}},
{"data": {"name": "one"}, "mark": {"type": "text", "text": "CONTRACT", "align": "left", "baseline": "middle", "font": "DejaVu Sans Mono", "fontSize": 11, "color": "#d0803a"},
 "encoding": {"x": {"datum": 363.3, "type": "quantitative"}, "y": {"datum": 910.16, "type": "quantitative"}}},
{"data": {"name": "one"}, "mark": {"type": "text", "text": "DEC08", "align": "left", "baseline": "middle", "font": "DejaVu Sans Mono", "fontSize": 11, "color": "#c82828"},
 "encoding": {"x": {"datum": 403.4, "type": "quantitative"}, "y": {"datum": 910.16, "type": "quantitative"}}},
{"data": {"name": "one"}, "mark": {"type": "text", "text": "DELTA (D)", "align": "left", "baseline": "middle", "font": "DejaVu Sans Mono", "fontSize": 11, "color": "#d0803a"},
 "encoding": {"x": {"datum": 436.6, "type": "quantitative"}, "y": {"datum": 910.16, "type": "quantitative"}}},
{"data": {"name": "one"}, "mark": {"type": "rect", "fill": "#33e633"},
 "encoding": {"x": {"datum": 480.9, "type": "quantitative"}, "x2": {"datum": 524.4}, "y": {"datum": 910.57, "type": "quantitative"}, "y2": {"datum": 909.75}}},
{"data": {"name": "one"}, "mark": {"type": "text", "text": "408 PIPS", "align": "left", "baseline": "middle", "font": "DejaVu Sans Mono", "fontSize": 11, "color": "#1a6a1a"},
 "encoding": {"x": {"datum": 483.0, "type": "quantitative"}, "y": {"datum": 910.16, "type": "quantitative"}}},
{"data": {"name": "one"}, "mark": {"type": "text", "text": "VOLUME BAR LIMIT", "align": "left", "baseline": "middle", "font": "DejaVu Sans Mono", "fontSize": 11, "color": "#d8d8d8"},
 "encoding": {"x": {"datum": 525.8, "type": "quantitative"}, "y": {"datum": 910.16, "type": "quantitative"}}},
{"data": {"name": "one"}, "mark": {"type": "text", "text": "0", "align": "left", "baseline": "middle", "font": "DejaVu Sans Mono", "fontSize": 11, "color": "#a05878"},
 "encoding": {"x": {"datum": 604.0, "type": "quantitative"}, "y": {"datum": 910.16, "type": "quantitative"}}},
{"data": {"name": "one"}, "mark": {"type": "text", "text": "0", "align": "left", "baseline": "middle", "font": "DejaVu Sans Mono", "fontSize": 11, "color": "#3a6a6a"},
 "encoding": {"x": {"datum": 630.3, "type": "quantitative"}, "y": {"datum": 910.16, "type": "quantitative"}}},
{"data": {"name": "one"}, "mark": {"type": "text", "text": "RANGE:", "align": "left", "baseline": "middle", "font": "DejaVu Sans Mono", "fontSize": 6.5, "color": "#d0803a"},
 "encoding": {"x": {"datum": 285.8, "type": "quantitative"}, "y": {"datum": 909.22, "type": "quantitative"}}},
{"data": {"name": "one"}, "mark": {"type": "text", "text": "22/09/2008", "align": "left", "baseline": "middle", "font": "DejaVu Sans", "fontSize": 14, "color": "#c8c8c8"},
 "encoding": {"x": {"datum": 306.5, "type": "quantitative"}, "y": {"datum": 909.28, "type": "quantitative"}}},
{"data": {"name": "one"}, "mark": {"type": "text", "text": "TO:", "align": "left", "baseline": "middle", "font": "DejaVu Sans Mono", "fontSize": 6.5, "color": "#d0803a"},
 "encoding": {"x": {"datum": 368.1, "type": "quantitative"}, "y": {"datum": 909.22, "type": "quantitative"}}},
{"data": {"name": "one"}, "mark": {"type": "text", "text": "22/09/2008", "align": "left", "baseline": "middle", "font": "DejaVu Sans", "fontSize": 14, "color": "#c8c8c8"},
 "encoding": {"x": {"datum": 379.2, "type": "quantitative"}, "y": {"datum": 909.28, "type": "quantitative"}}},
{"data": {"name": "one"}, "mark": {"type": "text", "text": "WATCH", "align": "right", "baseline": "middle", "font": "Liberation Sans", "fontSize": 20, "color": "#e02828"},
 "encoding": {"x": {"datum": 807.0, "type": "quantitative"}, "y": {"datum": 909.89, "type": "quantitative"}}}
],
"resolve": {"scale": {"color": "independent"}}
}
